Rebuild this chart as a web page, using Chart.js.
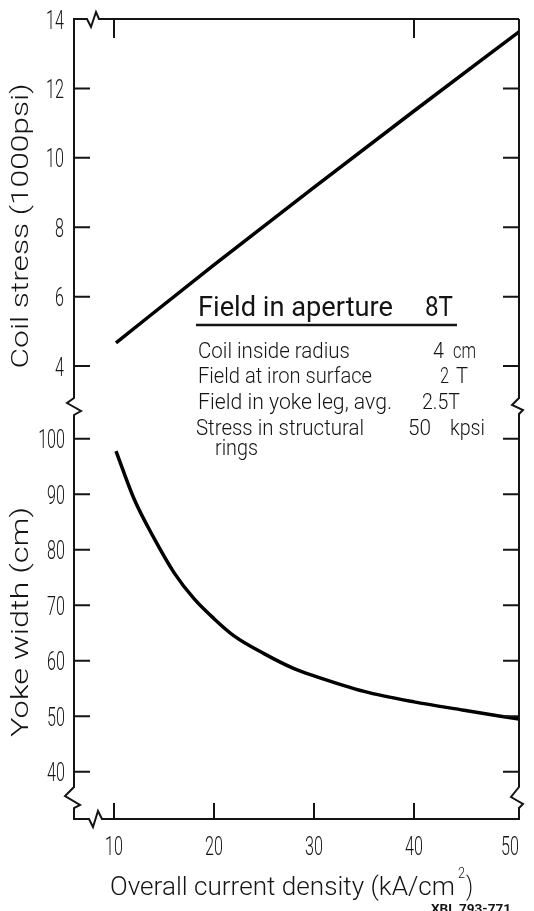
<!DOCTYPE html>
<html><head><meta charset="utf-8">
<script src="https://cdn.jsdelivr.net/npm/chart.js@4.4.1/dist/chart.umd.min.js"></script>
<style>html,body{margin:0;padding:0;background:#fff;}</style>
</head><body>
<canvas id="c" width="534" height="911"></canvas>
<script>
// ---- data ----
const stressX = [10.2, 20, 30, 40, 50.5];
const stressY = [4.67, 6.92, 9.15, 11.35, 13.63];
const yokeX = [10.2, 12, 14, 16, 18, 20, 22, 25, 28, 30, 35, 40, 45, 50.5];
const yokeY = [97.8, 89.2, 82.1, 75.9, 71.2, 67.6, 64.5, 61.3, 58.6, 57.3, 54.5, 52.6, 51.1, 49.5];
const xTicks = [10, 20, 30, 40, 50];
const xTopTicks = [10, 40];
const stressTicks = [4, 6, 8, 10, 12, 14];
const yokeTicks = [40, 50, 60, 70, 80, 90, 100];
const xTitle = 'Overall current density (kA/cm';
const stressTitle = 'Coil stress (1000psi)';
const yokeTitle = 'Yoke width (cm)';
const boxTitle = ['Field in aperture', '8T'];
const boxRows = [
  ['Coil inside radius', '4', 'cm'],
  ['Field at iron surface', '2', 'T'],
  ['Field in yoke leg, avg.', '2.5T'],
  ['Stress in structural', '50', 'kpsi'],
  ['rings']
];
const figCode = 'XBL 793-771';

const FONT = 'Roboto, "Liberation Sans", sans-serif';
const INK = '#141414';

function fitText(ctx, str, x, y, o) {
  ctx.save();
  ctx.font = `${o.weight || 400} ${o.size}px ${FONT}`;
  const w = ctx.measureText(str).width;
  const sx = o.width ? o.width / w : (o.sx || 1);
  ctx.translate(x, y);
  if (o.rot) ctx.rotate(o.rot);
  ctx.scale(sx, 1);
  ctx.textAlign = o.align || 'left';
  ctx.textBaseline = 'alphabetic';
  ctx.fillStyle = INK;
  ctx.fillText(str, 0, 0);
  ctx.restore();
}

const decor = {
  id: 'decor',
  afterDraw(chart) {
    const ctx = chart.ctx;
    const {left, right, top, bottom} = chart.chartArea;
    const xs = chart.scales.x, yS = chart.scales.yS, yY = chart.scales.yY;
    const brk = yS.bottom;
    ctx.save();
    ctx.strokeStyle = INK;
    ctx.lineWidth = 2;
    ctx.lineJoin = 'miter';
    // frame with break marks
    ctx.beginPath();
    ctx.moveTo(right, top);
    ctx.lineTo(left + 25, top);
    ctx.lineTo(left + 22, top - 7);
    ctx.lineTo(left + 17, top + 8);
    ctx.lineTo(left + 13, top);
    ctx.lineTo(left, top);
    ctx.lineTo(left, brk - 7);
    ctx.lineTo(left - 7, brk - 2);
    ctx.lineTo(left + 7, brk + 6);
    ctx.lineTo(left, brk + 10);
    ctx.lineTo(left, bottom - 32);
    ctx.lineTo(left - 9, bottom - 23);
    ctx.lineTo(left + 6, bottom - 14);
    ctx.lineTo(left, bottom - 11);
    ctx.lineTo(left, bottom);
    ctx.lineTo(left + 15, bottom);
    ctx.lineTo(left + 19, bottom + 8);
    ctx.lineTo(left + 24, bottom - 8);
    ctx.lineTo(left + 28, bottom);
    ctx.lineTo(right, bottom);
    ctx.lineTo(right, bottom - 11);
    ctx.lineTo(right + 4, bottom - 15);
    ctx.lineTo(right - 8, bottom - 22);
    ctx.lineTo(right, bottom - 32);
    ctx.lineTo(right, brk + 9);
    ctx.lineTo(right + 4, brk + 5);
    ctx.lineTo(right - 7, brk);
    ctx.lineTo(right, brk - 7);
    ctx.lineTo(right, top);
    ctx.stroke();

    // inward tick marks
    ctx.beginPath();
    stressTicks.filter(v => v < 14).forEach(v => {
      const y = yS.getPixelForValue(v);
      ctx.moveTo(left, y); ctx.lineTo(left + 16, y);
      ctx.moveTo(right, y); ctx.lineTo(right - 16, y);
    });
    yokeTicks.forEach(v => {
      const y = yY.getPixelForValue(v);
      ctx.moveTo(left, y); ctx.lineTo(left + 16, y);
      ctx.moveTo(right, y); ctx.lineTo(right - 16, y);
    });
    xTicks.filter(v => v < 50).forEach(v => {
      const x = xs.getPixelForValue(v);
      ctx.moveTo(x, bottom); ctx.lineTo(x, bottom - 16);
    });
    xTopTicks.forEach(v => {
      const x = xs.getPixelForValue(v);
      ctx.moveTo(x, top); ctx.lineTo(x, top + 19);
    });
    ctx.stroke();

    // tick labels (tall, narrow lettering)
    const TS = 26, TSX = 0.62;
    stressTicks.forEach(v => {
      fitText(ctx, String(v), 64, yS.getPixelForValue(v) + 9.5, {size: TS, sx: TSX, align: 'right', weight: 300});
    });
    yokeTicks.forEach(v => {
      fitText(ctx, String(v), 65, yY.getPixelForValue(v) + 9.5, {size: TS, sx: TSX, align: 'right', weight: 300});
    });
    xTicks.forEach(v => {
      const px = v === 50 ? xs.getPixelForValue(v) - 4 : xs.getPixelForValue(v);
      fitText(ctx, String(v), px, 855, {size: TS, sx: TSX, align: 'center', weight: 300});
    });

    // axis titles
    fitText(ctx, stressTitle, 27.5, (yS.top + yS.bottom) / 2 + 14, {size: 24, width: 285, align: 'center', rot: -Math.PI / 2, weight: 300});
    fitText(ctx, yokeTitle, 27.5, (yY.top + yY.bottom) / 2 + 10, {size: 24, width: 230, align: 'center', rot: -Math.PI / 2, weight: 300});
    fitText(ctx, xTitle, 110, 895, {size: 25, width: 345, weight: 300});
    fitText(ctx, '2', 458, 878, {size: 15, width: 7, weight: 300});
    fitText(ctx, ')', 466, 895, {size: 25, width: 7, weight: 300});
    fitText(ctx, figCode, 431, 913, {size: 12, width: 80, weight: 700});

    // annotation block
    fitText(ctx, boxTitle[0], 198, 316, {size: 28, width: 195, weight: 400});
    fitText(ctx, boxTitle[1], 425, 316, {size: 28, width: 28, weight: 400});
    ctx.lineWidth = 2.5;
    ctx.beginPath(); ctx.moveTo(196, 325); ctx.lineTo(457, 325); ctx.stroke();
    const RS = 22, base = [358, 383, 409, 435, 455];
    fitText(ctx, boxRows[0][0], 198, base[0], {size: RS, width: 152, weight: 300});
    fitText(ctx, boxRows[0][1], 433, base[0], {size: RS, width: 11, weight: 300});
    fitText(ctx, boxRows[0][2], 453, base[0], {size: RS, width: 23, weight: 300});
    fitText(ctx, boxRows[1][0], 198, base[1], {size: RS, width: 174, weight: 300});
    fitText(ctx, boxRows[1][1], 440, base[1], {size: RS, width: 9, weight: 300});
    fitText(ctx, boxRows[1][2], 456, base[1], {size: RS, width: 12, weight: 300});
    fitText(ctx, boxRows[2][0], 198, base[2], {size: RS, width: 194, weight: 300});
    fitText(ctx, boxRows[2][1], 422, base[2], {size: RS, width: 38, weight: 300});
    fitText(ctx, boxRows[3][0], 196, base[3], {size: RS, width: 168, weight: 300});
    fitText(ctx, boxRows[3][1], 408, base[3], {size: RS, width: 23, weight: 300});
    fitText(ctx, boxRows[3][2], 450, base[3], {size: RS, width: 35, weight: 300});
    fitText(ctx, boxRows[4][0], 215, base[4], {size: RS, width: 43, weight: 300});
    ctx.restore();
  }
};

const hideAxis = {
  grid: {display: false, drawTicks: false},
  border: {display: false},
  ticks: {display: false}
};

new Chart(document.getElementById('c'), {
  type: 'line',
  data: {
    datasets: [
      {
        label: 'Coil stress',
        data: stressX.map((x, i) => ({x, y: stressY[i]})),
        yAxisID: 'yS',
        borderColor: '#000', borderWidth: 3.5, pointRadius: 0, fill: false,
        cubicInterpolationMode: 'monotone'
      },
      {
        label: 'Yoke width',
        data: yokeX.map((x, i) => ({x, y: yokeY[i]})),
        yAxisID: 'yY',
        borderColor: '#000', borderWidth: 3.5, pointRadius: 0, fill: false,
        cubicInterpolationMode: 'monotone'
      }
    ]
  },
  options: {
    responsive: false,
    devicePixelRatio: 1,
    animation: false,
    layout: {padding: {top: 19, right: 15, bottom: 0, left: 0}},
    plugins: {legend: {display: false}, tooltip: {enabled: false}},
    scales: {
      x: Object.assign({type: 'linear', min: 6, max: 50.5,
        afterFit(s) { s.height = 92; }}, hideAxis),
      yS: Object.assign({type: 'linear', position: 'left', stack: 'v', stackWeight: 386, weight: 2,
        min: 2.88, max: 14, afterFit(s) { s.width = 74; }}, hideAxis),
      yY: Object.assign({type: 'linear', position: 'left', stack: 'v', stackWeight: 414, weight: 1,
        min: 31.5, max: 106.1, afterFit(s) { s.width = 74; }}, hideAxis)
    }
  },
  plugins: [decor]
});
</script>
</body></html>
